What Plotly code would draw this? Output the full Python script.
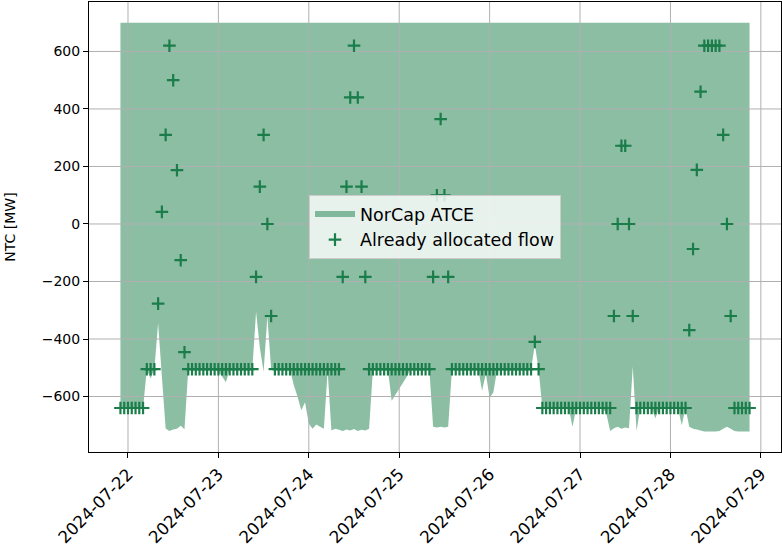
import pandas as pd
import plotly.graph_objects as go

# hourly data, first hour 2024-07-21 22:00 (= 07-22 00:00 local)
start = "2024-07-21 22:00"

# upper NorCap ATCE bound (MW), flat over the week
atce_max = 700

# lower NorCap ATCE bound (MW), 12 hours per row
atce_min = [
    -640, -640, -640, -640, -640, -640, -640, -505, -537, -505, -345, -530,
    -711, -720, -715, -712, -702, -714, -505, -505, -505, -505, -505, -505,
    -505, -505, -515, -530, -550, -505, -505, -505, -505, -505, -505, -505,
    -305, -430, -514, -322, -505, -505, -505, -505, -505, -505, -560, -600,
    -648, -620, -695, -712, -697, -705, -712, -510, -718, -712, -716, -720,
    -715, -718, -713, -720, -716, -718, -712, -510, -505, -505, -505, -505,
    -615, -594, -573, -552, -531, -505, -505, -505, -505, -505, -505, -705,
    -708, -705, -708, -705, -505, -505, -505, -505, -505, -505, -505, -505,
    -580, -520, -605, -585, -505, -505, -505, -505, -505, -505, -505, -505,
    -505, -505, -420, -505, -640, -640, -640, -640, -640, -640, -640, -640,
    -705, -640, -640, -640, -640, -640, -640, -640, -640, -660, -720, -710,
    -705, -712, -708, -710, -496, -720, -640, -640, -640, -640, -676, -640,
    -640, -640, -640, -640, -640, -700, -640, -705, -712, -715, -718, -722,
    -722, -722, -722, -720, -712, -705, -712, -720, -722, -722, -722, -722,
]

# already allocated flow (MW)
allocated = [
    -640, -640, -640, -640, -640, -640, -640, -505, -505, -505, -277, 42,
    310, 620, 500, 187, -126, -446, -505, -505, -505, -505, -505, -505,
    -505, -505, -505, -505, -505, -505, -505, -505, -505, -505, -505, -505,
    -184, 130, 310, 0, -320, -505, -505, -505, -505, -505, -505, -505,
    -505, -505, -505, -505, -505, -505, -505, -505, -505, -505, -505, -184,
    130, 440, 620, 440, 130, -184, -505, -505, -505, -505, -505, -505,
    -505, -505, -505, -505, -505, -505, -505, -505, -505, -505, -505, -184,
    100, 365, 100, -184, -505, -505, -505, -505, -505, -505, -505, -505,
    -505, -505, -505, -505, -505, -505, -505, -505, -505, -505, -505, -505,
    -505, -505, -410, -505, -640, -640, -640, -640, -640, -640, -640, -640,
    -640, -640, -640, -640, -640, -640, -640, -640, -640, -640, -640, -320,
    0, 272, 272, 0, -320, -640, -640, -640, -640, -640, -640, -640,
    -640, -640, -640, -640, -640, -640, -640, -369, -87, 188, 460, 620,
    620, 620, 620, 620, 310, 0, -320, -640, -640, -640, -640, -640,
]

# tick positions (grid drawn over the fill like matplotlib does)
day_ticks = ["2024-07-22", "2024-07-23", "2024-07-24", "2024-07-25",
             "2024-07-26", "2024-07-27", "2024-07-28", "2024-07-29"]
mw_ticks = [-600, -400, -200, 0, 200, 400, 600]

times = pd.date_range(start, periods=len(allocated), freq="h")
green = "#1a7d4a"

# matplotlib-like 5% margins
pad = (times[-1] - times[0]) * 0.05
x_range = [times[0] - pad, times[-1] + pad]
y_range = [-793, 772]

fig = go.Figure()
fig.add_trace(go.Scatter(
    x=list(times) + list(times[::-1]),
    y=[atce_max] * len(times) + atce_min[::-1],
    fill="toself", fillcolor="rgba(26,125,74,0.5)",
    mode="none",
    name="NorCap ATCE", hoverinfo="skip"))

# grid lines as a trace so they sit above the fill but under the markers
gx, gy = [], []
for v in mw_ticks:
    gx += [x_range[0], x_range[1], None]
    gy += [v, v, None]
for d in day_ticks:
    gx += [pd.Timestamp(d), pd.Timestamp(d), None]
    gy += [y_range[0], y_range[1], None]
fig.add_trace(go.Scatter(x=gx, y=gy, mode="lines",
                         line=dict(color="#b0b0b0", width=1),
                         showlegend=False, hoverinfo="skip"))

fig.add_trace(go.Scatter(
    x=times, y=allocated, mode="markers",
    marker=dict(symbol="cross-thin", size=9, color=green,
                line=dict(width=2.2, color=green)),
    name="Already allocated flow"))

fig.update_layout(
    width=782, height=548,
    margin=dict(l=89, r=1, t=2, b=96),
    plot_bgcolor="white", paper_bgcolor="white",
    font=dict(family="DejaVu Sans", size=14, color="black"),
    legend=dict(x=0.5, y=0.5, xanchor="center", yanchor="middle",
                bgcolor="rgba(255,255,255,0.8)", bordercolor="#cccccc",
                borderwidth=1, font=dict(size=17.5), itemwidth=40),
    showlegend=True,
)
fig.update_xaxes(
    type="date", range=x_range, automargin=False,
    tickvals=day_ticks, tickformat="%Y-%m-%d", tickangle=-45,
    tickfont=dict(size=16.7),
    showgrid=False,
    showline=True, linecolor="black", linewidth=1, mirror=True,
    ticks="outside", ticklen=5, tickcolor="black")
fig.update_yaxes(
    range=y_range, tickvals=mw_ticks, automargin=False,
    title=dict(text="NTC [MW]", standoff=22, font=dict(size=14)),
    showgrid=False, zeroline=False,
    showline=True, linecolor="black", linewidth=1, mirror=True,
    ticks="outside", ticklen=5, tickcolor="black")

# drop the page's default 8px body margin so the figure sits at 0,0
fig.write_html("out.html", config={"displayModeBar": False},
               post_script="document.body.style.margin='0px';")
